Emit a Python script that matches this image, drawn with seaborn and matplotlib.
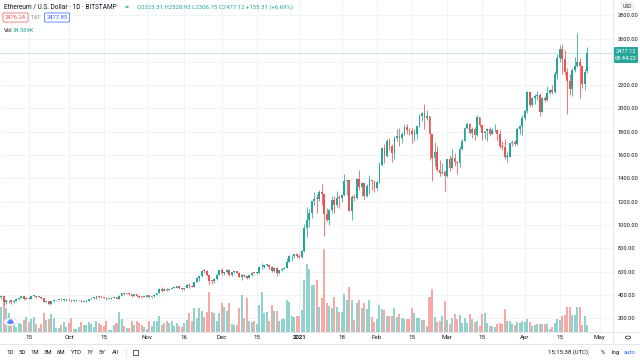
import numpy as np
import pandas as pd
import matplotlib
matplotlib.use("Agg")
import matplotlib.pyplot as plt
import matplotlib.dates as mdates
from matplotlib.patches import Rectangle, Circle, FancyBboxPatch, Ellipse
from matplotlib.lines import Line2D
import seaborn as sns

# ---------------- data (ETH/USD daily, Bitstamp) ----------------
start_date = "2020-09-03"

opens = [
    # Sep
    440,385,388,335,352,353,337,351,368,374,387,365,377,365,389,389,384,385,370,341,344,321,349,352,354,357,354,359,
    # Oct
    360,353,346,346,352,353,341,341,350,366,371,375,387,381,380,377,366,368,377,379,369,392,414,409,411,406,394,404,389,386,382,
    # Nov
    386,396,383,388,401,415,449,435,454,444,449,462,462,475,461,448,460,481,479,471,509,549,558,609,603,569,518,517,538,575,
    # Dec
    614,588,598,616,569,596,601,591,554,573,560,545,568,590,586,589,636,642,655,659,638,609,634,584,612,626,635,682,731,731,751,
    # Jan
    737,729,774,975,1040,1100,1208,1225,1224,1281,1262,1090,1043,1130,1218,1171,1233,1230,1257,1377,1382,1121,1236,1230,1392,1324,1357,1253,1332,1382,1377,
    # Feb
    1314,1369,1515,1660,1594,1718,1677,1614,1746,1768,1744,1783,1843,1814,1805,1779,1781,1849,1937,1960,1919,1935,1777,1572,1626,1475,1446,1459,
    # Mar
    1417,1565,1492,1575,1541,1533,1654,1723,1835,1868,1793,1826,1772,1924,1854,1791,1806,1823,1782,1812,1813,1783,1681,1669,1582,1587,1702,1716,1691,1820,1846,
    # Apr
    1919,1977,2143,2028,2093,2107,2118,1971,2088,2072,2135,2157,2140,2299,2432,2514,2423,2317,2235,2171,2330,2364,2403,2363,2211,2323,
]
highs = [
    450,395,391,354,357,358,355,372,375,390,389,378,378,392,394,392,391,387,375,345,345,350,357,357,360,377,361,362,
    370,354,350,354,355,355,343,352,369,375,378,393,392,384,382,378,369,379,384,381,396,417,415,414,418,409,406,405,395,387,394,
    398,398,392,408,417,456,468,458,459,454,470,468,478,476,461,463,491,500,482,511,552,560,614,618,617,573,528,542,577,617,
    633,600,620,622,599,608,605,593,576,574,561,572,597,591,595,636,676,656,667,665,647,637,637,613,630,640,714,746,739,754,752,
    749,787,1012,1155,1135,1210,1280,1265,1300,1350,1265,1150,1135,1245,1250,1290,1260,1260,1440,1390,1388,1260,1265,1400,1470,1373,1363,1348,1430,1390,1380,
    1378,1540,1670,1695,1735,1745,1698,1765,1825,1830,1800,1870,1870,1830,1835,1820,1850,1955,1970,2040,1985,1936,1780,1710,1675,1560,1530,1468,
    1570,1600,1650,1620,1548,1680,1735,1840,1880,1875,1840,1845,1945,1930,1860,1810,1835,1845,1830,1870,1820,1812,1720,1735,1625,1705,1730,1730,1840,1860,1945,
    1990,2150,2145,2100,2125,2150,2135,2100,2105,2195,2165,2200,2320,2470,2545,2550,2500,2345,2300,2350,2440,2645,2430,2370,2340,2529,
]
lows = [
    370,366,310,319,331,326,334,350,360,370,360,362,362,362,381,377,380,366,335,335,315,318,340,349,345,352,350,351,
    348,335,343,344,347,336,336,337,348,364,369,367,377,372,371,360,365,367,373,365,367,388,403,406,400,385,392,383,375,370,378,
    385,377,372,378,397,413,428,434,436,441,447,455,459,453,440,445,456,462,466,470,509,520,550,586,561,487,496,505,530,572,
    573,573,589,563,562,588,585,551,531,554,537,544,566,577,581,584,625,627,646,626,599,595,566,576,603,618,628,680,695,720,717,
    714,715,767,893,979,1060,1170,1102,1205,1175,905,1036,1000,1100,1100,1155,1150,1195,1245,1260,1120,1040,1208,1220,1300,1250,1220,1240,1270,1300,1280,
    1300,1360,1505,1530,1580,1640,1540,1570,1718,1680,1700,1770,1780,1772,1700,1725,1735,1845,1895,1820,1900,1555,1380,1510,1460,1420,1435,1290,
    1410,1460,1488,1505,1440,1500,1640,1720,1820,1780,1750,1730,1760,1840,1730,1740,1720,1760,1780,1800,1730,1665,1640,1570,1540,1585,1675,1680,1690,1780,1770,
    1900,1960,2015,2025,2035,2075,1935,1970,2055,2060,2120,2120,2130,2250,2400,2300,2290,1950,2115,2110,2310,2360,2090,2180,2160,2307,
]
closes = [
    385,388,335,352,353,337,351,368,374,387,365,377,365,389,389,384,385,370,341,344,321,349,352,354,357,354,359,360,
    353,346,346,352,353,341,341,350,366,371,375,387,381,380,377,366,368,377,379,369,392,414,409,411,406,394,404,389,386,382,386,
    396,383,388,401,415,449,435,454,444,449,462,462,475,461,448,460,481,479,471,509,549,558,609,603,569,518,517,538,575,614,
    588,598,616,569,596,601,591,554,573,560,545,568,590,586,589,636,642,655,659,638,609,634,584,612,626,635,682,731,731,751,737,
    729,774,975,1040,1100,1208,1225,1224,1281,1262,1090,1043,1130,1218,1171,1233,1230,1257,1377,1382,1121,1236,1230,1392,1324,1357,1253,1332,1382,1377,1314,
    1369,1515,1660,1594,1718,1677,1614,1746,1768,1744,1783,1843,1814,1805,1779,1781,1849,1937,1960,1919,1935,1777,1572,1626,1475,1446,1459,1417,
    1565,1492,1575,1541,1533,1654,1723,1835,1868,1793,1826,1772,1924,1854,1791,1806,1823,1782,1812,1813,1783,1681,1669,1582,1587,1702,1716,1691,1820,1846,1919,
    1977,2143,2028,2093,2107,2118,1971,2088,2072,2135,2157,2140,2299,2432,2514,2423,2317,2235,2171,2330,2364,2403,2363,2211,2316,2477.12,
]
volume_k = [
    135,125,165,120,95,65,45,25,45,40,60,75,50,65,75,40,20,40,95,60,65,90,70,20,20,35,50,25,
    45,70,15,15,25,50,35,35,50,40,25,55,45,35,30,55,10,10,35,45,100,65,30,20,20,55,35,55,45,35,25,
    15,55,30,55,55,80,35,45,55,45,55,30,45,30,25,45,60,95,55,120,70,120,105,75,100,200,100,95,55,95,
    145,125,105,145,40,35,35,120,185,70,170,55,50,55,40,135,200,95,100,55,135,105,105,55,65,65,160,150,80,75,80,
    80,110,260,340,315,235,235,260,125,170,415,145,130,120,175,125,100,100,190,160,225,160,60,145,160,120,145,115,160,75,50,
    65,135,115,110,80,80,80,120,75,90,70,65,65,65,120,95,70,70,60,60,30,175,215,75,50,55,80,155,
    60,40,70,90,65,85,45,70,45,90,65,50,55,30,90,95,45,30,30,25,40,45,40,115,55,55,40,35,50,45,55,
    50,65,50,30,35,40,40,40,40,40,15,25,45,65,60,80,85,125,125,85,85,125,125,35,80,34.569,
]

tick_dates = ["2020-09-15", "2020-10-01", "2020-10-15", "2020-11-01", "2020-11-16", "2020-12-01",
              "2020-12-15", "2021-01-01", "2021-01-18", "2021-02-01", "2021-02-15", "2021-03-01",
              "2021-03-15", "2021-04-01", "2021-04-15", "2021-05-01"]
tick_labels = ["15", "Oct", "15", "Nov", "16", "Dec", "15", "2021", "18", "Feb", "15", "Mar",
               "15", "Apr", "15", "May"]
price_ticks = [200, 400, 600, 800, 1000, 1200, 1400, 1600, 1800, 2000, 2200, 2600, 2800]
last_price = 2477.12

assert len(opens) == len(highs) == len(lows) == len(closes) == len(volume_k) == 236

# ---------------- style ----------------
UP, DOWN = "#26a69a", "#ef5350"
VOL_UP, VOL_DOWN = "#92d2cc", "#f7a9a7"
GRID = "#f0f3fa"
TXT = "#131722"

sns.set_theme(style="white")
plt.rcParams["font.family"] = ["Roboto", "DejaVu Sans"]

W, H = 640, 360
def fx(px): return px / W
def fy(py): return 1 - py / H

fig = plt.figure(figsize=(6.4, 3.6), dpi=100)
fig.patch.set_facecolor("white")
rect = [0, fy(332), fx(613), 332 / H]
ax_vol = fig.add_axes(rect)
ax = fig.add_axes(rect, sharex=ax_vol)
ax.patch.set_visible(False)

dates = pd.date_range(start_date, periods=len(closes), freq="D")
dnum = mdates.date2num(dates)
df = pd.DataFrame({"date": dnum, "open": opens, "high": highs, "low": lows,
                   "close": closes, "volume": volume_k})
df["direction"] = np.where(df["close"] >= df["open"], "up", "down")

# grid lines (drawn on the bottom layer)
ymin, ymax = 81.5, 2931
ax.set_ylim(ymin, ymax)
ax_vol.set_ylim(0, 1660)
for p in price_ticks + [2400]:
    ax_vol.plot([0, 1], [p, p], transform=ax.get_yaxis_transform(), color=GRID, lw=0.7, zorder=0)
tick_nums = mdates.date2num(pd.to_datetime(tick_dates))
for t in tick_nums:
    ax_vol.axvline(t, color=GRID, lw=0.7, zorder=0)

# volume bars via seaborn
sns.barplot(data=df, x="date", y="volume", hue="direction",
            palette={"up": VOL_UP, "down": VOL_DOWN}, native_scale=True,
            dodge=False, width=0.8, linewidth=0, saturation=1, errorbar=None,
            legend=False, ax=ax_vol)

# candlesticks
colors = np.where(df["direction"] == "up", UP, DOWN)
ax.vlines(df["date"], df["low"], df["high"], colors=colors, lw=0.55, zorder=2)
body_bottom = np.minimum(df["open"], df["close"])
body_h = np.maximum(np.abs(df["close"] - df["open"]), 7)
ax.bar(df["date"], body_h, bottom=body_bottom, width=0.72, color=colors, linewidth=0, zorder=3)

# last price line
ax.axhline(last_price, color=UP, lw=0.5, alpha=0.35, zorder=1)

# x limits
jan3 = mdates.date2num(pd.Timestamp("2021-01-03"))
ax.set_xlim(jan3 - 304.3 / 2.504, jan3 + (613 - 304.3) / 2.504)

# axes cosmetics
for a in (ax, ax_vol):
    for s in a.spines.values():
        s.set_visible(False)
    a.set_xlabel("")
    a.set_ylabel("")
ax_vol.set_yticks([])
ax_vol.tick_params(axis="x", labelbottom=False, bottom=False)

ax.yaxis.tick_right()
ax.set_yticks(price_ticks)
ax.set_yticklabels([f"{p:.2f}" for p in price_ticks])
ax.tick_params(axis="y", length=0, pad=3.2, labelsize=4.1, labelcolor=TXT)
ax.set_xticks(tick_nums)
ax.set_xticklabels(tick_labels)
ax.tick_params(axis="x", length=0, pad=2.2, labelsize=4.4, labelcolor=TXT)
for lbl in ax.get_xticklabels():
    if lbl.get_text() == "2021":
        lbl.set_fontweight("bold")

# separators
fig.add_artist(Line2D([fx(613), fx(613)], [fy(0), fy(344)], color="#e0e3eb", lw=0.6))
fig.add_artist(Line2D([0, 1], [fy(332), fy(332)], color="#e0e3eb", lw=0.6))
fig.add_artist(Line2D([0, 1], [fy(344), fy(344)], color="#e0e3eb", lw=0.6))

# price tag
fig.add_artist(FancyBboxPatch((fx(614), fy(63)), fx(24), 16 / H,
                              boxstyle="round,pad=0,rounding_size=0.002",
                              facecolor=UP, edgecolor="none", transform=fig.transFigure))
fig.text(fx(626), fy(51.5), "2477.12", color="white", fontsize=4.1, ha="center", va="center")
fig.text(fx(626), fy(58.5), "08:44:22", color="white", fontsize=4.1, ha="center", va="center")

# USD label
fig.text(fx(627.5), fy(6.5), "USD", fontsize=3.6, color=TXT, ha="center", va="center",
         bbox=dict(boxstyle="round,pad=0.25,rounding_size=0.3", fc="white", ec="#d1d4dc", lw=0.4))

# header
fig.text(fx(4), fy(7), "Ethereum / U.S. Dollar · 1D · BITSTAMP", fontsize=4.7, color=TXT,
         ha="left", va="center")
fig.add_artist(Circle((fx(127), fy(7)), 2.6 / W, transform=fig.transFigure,
                      facecolor="#c8ece8", edgecolor="none"))
fig.add_artist(Circle((fx(127), fy(7)), 1.4 / W, transform=fig.transFigure,
                      facecolor=UP, edgecolor="none"))
fig.text(fx(137), fy(7), "O2323.31 H2528.93 L2306.75 C2477.12 +155.31 (+6.69%)",
         fontsize=4.3, color=UP, ha="left", va="center")
fig.text(fx(15.5), fy(17.5), "2476.24", fontsize=4.2, color=DOWN, ha="center", va="center",
         bbox=dict(boxstyle="round,pad=0.35,rounding_size=0.2", fc="white", ec=DOWN, lw=0.5))
fig.text(fx(36), fy(17.5), "1.61", fontsize=3.8, color="#787b86", ha="center", va="center")
fig.text(fx(57), fy(17.5), "2477.85", fontsize=4.2, color="#2962ff", ha="center", va="center",
         bbox=dict(boxstyle="round,pad=0.35,rounding_size=0.2", fc="white", ec="#2962ff", lw=0.5))
fig.text(fx(4), fy(30), "Vol", fontsize=4.2, color=TXT, ha="left", va="center")
fig.text(fx(13), fy(30), "34.569K", fontsize=4.2, color=UP, ha="left", va="center")

# logo
fig.add_artist(Circle((fx(10.5), fy(322)), 6.5 / W, transform=fig.transFigure,
                      facecolor="white", edgecolor="#e0e3eb", lw=0.5, zorder=5))
fig.add_artist(Ellipse((fx(10.5), fy(322.5)), 7 / W, 3.2 / H, transform=fig.transFigure,
                       facecolor="#2962ff", alpha=0.75, edgecolor="none", zorder=6))
fig.add_artist(Circle((fx(10.5), fy(320.5)), 2.2 / W, transform=fig.transFigure,
                      facecolor="#2962ff", alpha=0.75, edgecolor="none", zorder=6))

# bottom toolbar
for lab, xp in zip(["1D", "5D", "1M", "3M", "6M", "YTD", "1Y", "5Y", "All"],
                   [10, 22.5, 35, 48, 61, 76, 90, 102, 115]):
    fig.text(fx(xp), fy(352.5), lab, fontsize=4.3, color=TXT, ha="center", va="center")
fig.add_artist(Line2D([fx(126), fx(126)], [fy(348), fy(357)], color="#e0e3eb", lw=0.6))
fig.add_artist(Rectangle((fx(132.5), fy(355)), 5 / W, 5 / H, transform=fig.transFigure,
                         facecolor="none", edgecolor=TXT, lw=0.5))
fig.text(fx(568), fy(352.5), "15:15:38 (UTC)", fontsize=4.3, color=TXT, ha="center", va="center")
fig.add_artist(Line2D([fx(588), fx(588)], [fy(348), fy(357)], color="#e0e3eb", lw=0.6))
fig.text(fx(603), fy(352.5), "%", fontsize=4.3, color=TXT, ha="center", va="center")
fig.text(fx(616), fy(352.5), "log", fontsize=4.3, color=TXT, ha="center", va="center")
fig.text(fx(630), fy(352.5), "auto", fontsize=4.3, color="#2962ff", ha="center", va="center")
fig.add_artist(Circle((fx(628), fy(337.5)), 2.6 / W, transform=fig.transFigure,
                      facecolor="none", edgecolor=TXT, lw=0.5))

fig.savefig("out.png", dpi=100)
